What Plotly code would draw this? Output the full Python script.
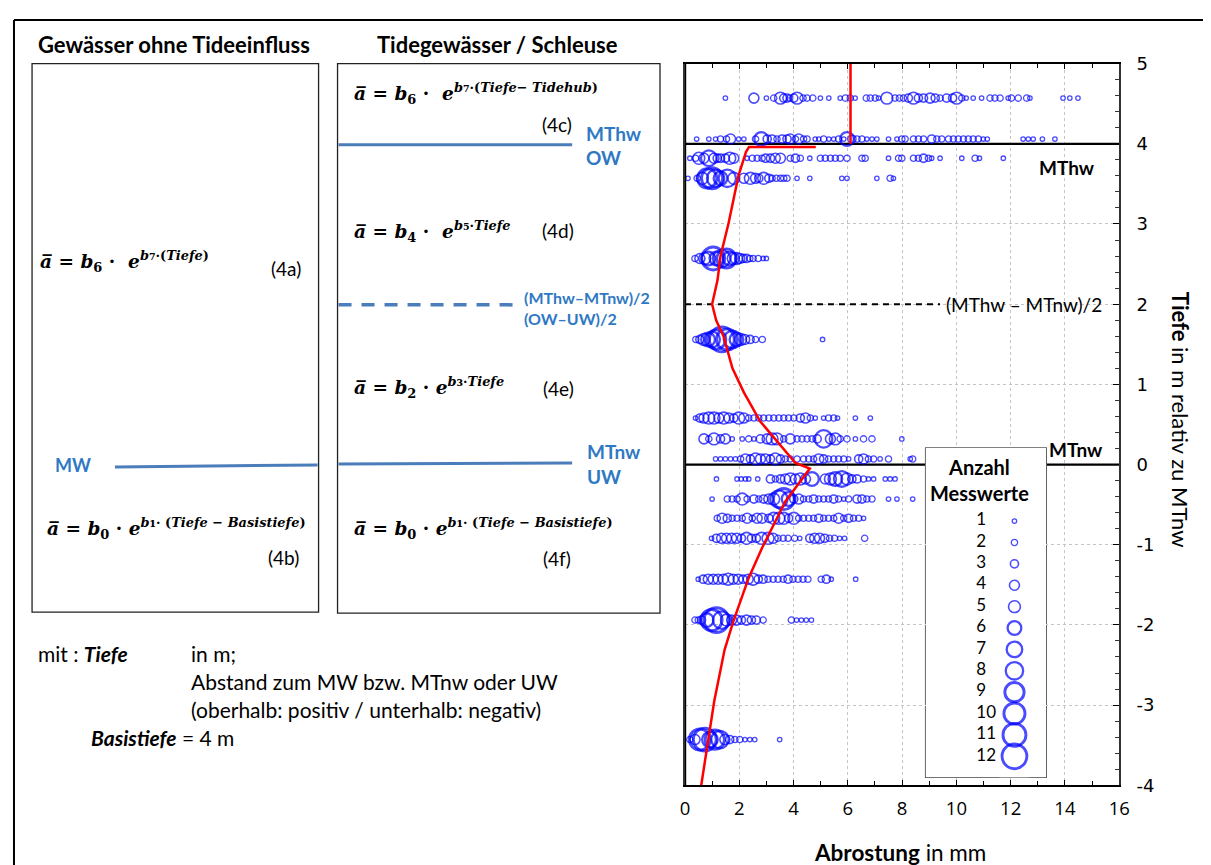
import plotly.graph_objects as go

W, H = 1215, 870
# observed mapping of the photographed page (measured): screen = A + S * page ; page = figure + 8
SX, AX = 0.9885, 4.0
SY, AY = 0.975, 10.6
OFF = 8

# ---------------- data ----------------
x457 = [1.49, 2.54, 3.0, 3.27, 3.52, 3.64, 3.76, 3.86, 4.01, 4.13, 4.35, 4.5, 4.71, 4.99, 5.3, 5.72, 5.91, 6.09,
        6.27, 6.68, 6.83, 7.01, 7.13, 7.44, 7.74, 7.9, 8.05, 8.23, 8.42, 8.6, 8.79, 9.03, 9.22, 9.4, 9.64, 9.86,
        10.01, 10.2, 10.36, 10.62, 10.93, 11.24, 11.42, 11.61, 11.91, 12.03, 12.28, 12.59, 12.71, 13.93, 14.18, 14.48]
c457 = [1, 4, 1, 2, 5, 3, 3, 2, 3, 5, 2, 2, 2, 1, 1, 1, 2, 2, 1, 2, 2, 2, 1, 5, 2, 2, 2, 3, 5, 3, 3, 4, 3, 2, 3, 3,
        5, 2, 1, 1, 1, 2, 2, 2, 1, 2, 2, 2, 1, 1, 1, 1]

x406 = [0.43, 0.88, 1.13, 1.31, 1.53, 1.68, 1.98, 2.17, 2.6, 2.81, 3.03, 3.21, 3.39, 3.58, 3.76, 3.88, 4.07, 4.19,
        4.37, 4.5, 4.8, 4.93, 5.11, 5.3, 5.48, 5.66, 5.85, 5.97, 6.15, 6.34, 6.52, 6.7, 6.89, 7.07, 7.5, 7.81, 7.99,
        8.11, 8.42, 8.6, 8.79, 9.09, 9.28, 9.46, 9.71, 9.89, 10.07, 10.26, 10.44, 10.62, 10.81, 10.99, 11.14, 12.46,
        12.65, 12.83, 13.17, 13.63]
c406 = [1, 1, 1, 2, 2, 4, 1, 1, 2, 6, 3, 3, 2, 3, 3, 4, 2, 4, 2, 2, 1, 1, 2, 1, 1, 2, 1, 6, 3, 2, 2, 1, 1, 1, 1, 1, 2,
        2, 2, 2, 2, 3, 2, 2, 2, 2, 2, 2, 2, 2, 2, 1, 1, 1, 1, 1, 1, 1]

x382 = [0.18, 0.39, 0.51, 0.7, 0.88, 1.07, 1.19, 1.31, 1.49, 1.65, 1.8, 2.29, 2.48, 2.66, 2.84, 2.97, 3.15, 3.33,
        3.52, 3.88, 4.07, 4.25, 4.6, 4.99, 5.17, 5.36, 5.54, 5.72, 5.97, 6.52, 6.64, 7.5, 7.87, 7.99, 8.42, 8.6, 8.79,
        8.97, 9.09, 9.4, 10.2, 10.69, 10.85, 11.73]
c382 = [1, 2, 5, 4, 7, 4, 3, 3, 3, 5, 4, 1, 2, 2, 2, 3, 3, 4, 4, 2, 3, 2, 1, 2, 2, 2, 2, 2, 2, 2, 2, 1, 2, 2, 2, 2, 3,
        2, 1, 1, 1, 2, 1, 1]

x357 = [0.11, 0.45, 0.64, 0.82, 1.0, 1.13, 1.31, 1.56, 1.8, 2.17, 2.41, 2.6, 2.72, 2.9, 3.09, 3.21, 3.37, 3.52, 3.64,
        3.76, 4.13, 4.6, 5.78, 5.97, 7.07, 7.56, 7.68]
c357 = [1, 2, 5, 9, 10, 8, 6, 8, 5, 4, 5, 4, 3, 5, 3, 2, 2, 2, 2, 2, 1, 1, 1, 1, 1, 2, 1]

x257 = [0.37, 0.55, 0.73, 0.86, 1.04, 1.16, 1.35, 1.53, 1.65, 1.78, 1.9, 2.02, 2.14, 2.27, 2.39, 2.51, 2.7, 2.88, 3.0]
c257 = [2, 4, 5, 6, 11, 6, 8, 9, 6, 5, 5, 4, 3, 3, 2, 2, 2, 1, 1]

x156 = [0.4, 0.55, 0.7, 0.85, 1.0, 1.15, 1.36, 1.55, 1.75, 1.9, 2.05, 2.2, 2.4, 2.6, 2.85, 5.07]
c156 = [2, 3, 5, 6, 7, 9, 12, 10, 8, 6, 5, 4, 3, 2, 2, 1]

x058 = [0.39, 0.55, 0.7, 0.88, 1.07, 1.25, 1.43, 1.62, 1.8, 1.98, 2.17, 2.35, 2.54, 2.72, 2.9, 3.09, 3.27, 3.46, 3.64,
        3.82, 4.01, 4.25, 4.44, 4.62, 4.8, 5.11, 5.29, 5.48, 5.62, 6.28, 6.83]
c058 = [1, 3, 4, 5, 5, 4, 5, 4, 3, 5, 4, 2, 2, 2, 2, 2, 2, 2, 2, 2, 2, 3, 4, 2, 1, 1, 2, 2, 1, 1, 1]

x032 = [0.7, 0.88, 1.07, 1.31, 1.49, 1.74, 2.11, 2.35, 2.54, 2.78, 3.03, 3.21, 3.39, 3.64, 3.88, 4.13, 4.31, 4.5,
        4.68, 4.87, 5.11, 5.36, 5.54, 5.72, 5.97, 6.28, 6.58, 6.89, 7.99]
c032 = [4, 2, 5, 3, 4, 1, 1, 2, 1, 3, 4, 5, 5, 2, 4, 2, 2, 2, 2, 3, 8, 4, 5, 2, 2, 1, 2, 2, 1]

x007 = [1.13, 1.31, 1.49, 1.68, 1.86, 2.05, 2.23, 2.41, 2.6, 2.78, 2.97, 3.15, 3.33, 3.52, 3.7, 3.88, 4.13, 4.37,
        4.56, 4.74, 4.93, 5.11, 5.29, 5.48, 5.66, 5.85, 6.03, 6.4, 6.58, 6.76, 6.95, 7.19, 7.5, 8.3, 8.39]
c007 = [1, 1, 1, 1, 1, 2, 4, 3, 5, 4, 4, 3, 5, 3, 2, 2, 2, 2, 2, 2, 4, 3, 2, 2, 2, 2, 1, 3, 4, 2, 2, 1, 2, 1, 2]

xm018 = [1.16, 1.92, 2.07, 2.23, 2.35, 2.68, 3.15, 3.33, 3.52, 3.7, 3.88, 4.07, 4.25, 4.44, 4.68, 5.17, 5.36, 5.54,
         5.78, 5.97, 6.15, 6.34, 6.58, 6.76, 6.95, 7.38, 7.56, 7.74]
cm018 = [1, 1, 1, 1, 1, 1, 3, 2, 3, 4, 5, 4, 5, 4, 6, 4, 5, 6, 7, 5, 3, 3, 2, 1, 1, 1, 1, 1]

xm043 = [1.0, 1.56, 1.74, 1.92, 2.11, 2.29, 2.54, 2.72, 2.9, 3.09, 3.27, 3.46, 3.64, 3.82, 4.01, 4.19, 4.37, 4.56,
         4.74, 4.93, 5.11, 5.29, 5.48, 5.66, 5.85, 6.03, 6.34, 6.52, 6.7, 6.89, 7.5, 7.81, 8.39]
cm043 = [1, 2, 2, 2, 5, 2, 3, 2, 3, 4, 5, 8, 10, 6, 3, 4, 2, 2, 3, 2, 2, 2, 3, 2, 1, 2, 3, 3, 2, 2, 1, 1, 1]

xm067 = [1.19, 1.37, 1.56, 1.74, 1.92, 2.11, 2.29, 2.48, 2.66, 2.84, 3.09, 3.27, 3.46, 3.64, 3.82, 4.01, 4.19, 4.37,
         4.56, 4.74, 4.93, 5.11, 5.29, 5.48, 5.66, 5.85, 6.03, 6.21, 6.4, 6.58]
cm067 = [2, 4, 3, 2, 2, 2, 4, 2, 4, 4, 3, 5, 5, 5, 3, 5, 2, 2, 2, 2, 3, 2, 2, 2, 4, 2, 3, 2, 2, 1]

xm092 = [0.98, 1.16, 1.35, 1.53, 1.72, 1.9, 2.08, 2.27, 2.45, 2.63, 2.82, 3.06, 3.25, 3.43, 3.62, 3.8, 4.04, 4.23,
         4.6, 4.78, 4.96, 5.15, 5.33, 5.51, 5.7, 5.88, 6.62]
cm092 = [1, 3, 4, 4, 4, 4, 3, 5, 3, 3, 5, 5, 4, 2, 2, 2, 2, 1, 3, 4, 4, 3, 2, 2, 1, 1, 2]

xm143 = [0.49, 0.67, 0.86, 1.04, 1.22, 1.41, 1.59, 1.78, 1.96, 2.14, 2.33, 2.51, 2.7, 2.88, 3.06, 3.25, 3.43, 3.62,
         3.8, 3.98, 4.17, 4.35, 4.53, 5.02, 5.21, 5.39, 6.29]
cm143 = [1, 3, 4, 4, 4, 4, 5, 4, 4, 3, 4, 5, 3, 3, 2, 2, 2, 2, 3, 2, 2, 2, 2, 2, 3, 1, 1]

xm194 = [0.37, 0.49, 0.61, 0.8, 0.98, 1.16, 1.35, 1.53, 1.72, 1.9, 2.08, 2.27, 2.45, 2.63, 2.88, 3.92, 4.11, 4.29,
         4.47, 4.66]
cm194 = [2, 2, 3, 6, 10, 12, 8, 5, 4, 4, 3, 4, 3, 3, 2, 2, 1, 1, 1, 1]

xm343 = [0.18, 0.37, 0.55, 0.73, 0.92, 1.1, 1.29, 1.47, 1.65, 1.84, 2.02, 2.21, 2.39, 2.57, 3.49]
cm343 = [2, 4, 10, 11, 7, 9, 8, 4, 3, 2, 2, 1, 1, 1, 1]

row_depths = [4.57, 4.06, 3.82, 3.57, 2.57, 1.56, 0.58, 0.32, 0.07, -0.18, -0.43, -0.67, -0.92, -1.43, -1.94, -3.43]
row_x = [x457, x406, x382, x357, x257, x156, x058, x032, x007, xm018, xm043, xm067, xm092, xm143, xm194, xm343]
row_c = [c457, c406, c382, c357, c257, c156, c058, c032, c007, cm018, cm043, cm067, cm092, cm143, cm194, cm343]

# fitted curve (red)
fit_x = [4.82, 2.36, 2.25, 1.97, 1.6, 1.31, 1.2, 1.0, 1.15, 1.42, 1.75, 2.17, 2.77, 3.5, 4.07, 4.6, 3.7, 2.84,
         2.34, 1.78, 1.46, 1.08, 0.6]
fit_y = [3.96, 3.96, 3.9, 3.6, 3.0, 2.6, 2.3, 2.0, 1.8, 1.6, 1.2, 0.9, 0.54, 0.25, 0.02, -0.05, -0.46, -1.04,
         -1.42, -1.96, -2.31, -2.95, -4.0]
top_x = [6.1, 6.1]
top_y = [5.0, 4.0]

level_mthw = 4
level_mid = 2
level_mtnw = 0

legend_counts = list(range(1, 13))
x_ticks = list(range(0, 17, 2))
y_ticks = list(range(-4, 6))

BLUE_TXT = "#2f78c4"
BLUE_LN = "#4a7dba"
MARK = "#0000ff"


def msize(c):
    return 2.6 + 1.85 * c


def mwidth(c):
    if c <= 2:
        return 1.3
    if c <= 5:
        return 1.6
    if c <= 8:
        return 2.3
    return 2.9


def px(rx):
    return ((rx - AX) / SX - OFF) / W


def py(ry):
    return 1 - ((ry - AY) / SY - OFF) / H


fig = go.Figure()

bx, by, bc = [], [], []
for d, xs, cs in zip(row_depths, row_x, row_c):
    for xv, cv in zip(xs, cs):
        bx.append(xv)
        by.append(d)
        bc.append(cv)

fig.add_trace(go.Scatter(x=[0, 16], y=[level_mthw, level_mthw], mode="lines",
                         line=dict(color="black", width=2.2), hoverinfo="skip"))
fig.add_trace(go.Scatter(x=[0, 16], y=[level_mtnw, level_mtnw], mode="lines",
                         line=dict(color="black", width=2.2), hoverinfo="skip"))
fig.add_trace(go.Scatter(x=[0, 9.4], y=[level_mid, level_mid], mode="lines",
                         line=dict(color="black", width=2, dash="6px,5px"), hoverinfo="skip"))

fig.add_trace(go.Scatter(
    x=bx, y=by, mode="markers",
    marker=dict(symbol="circle-open", size=[msize(c) for c in bc], color=MARK,
                line=dict(width=[mwidth(c) for c in bc], color=MARK)),
))

fig.add_trace(go.Scatter(x=fit_x, y=fit_y, mode="lines", line=dict(color="#ff0000", width=2.5)))
fig.add_trace(go.Scatter(x=top_x, y=top_y, mode="lines", line=dict(color="#ff0000", width=2.5)))

fig.add_trace(go.Scatter(
    x=[0.736] * len(legend_counts), y=legend_counts, mode="markers", xaxis="x2", yaxis="y2",
    marker=dict(symbol="circle-open", size=[msize(c) for c in legend_counts], color=MARK,
                line=dict(width=[mwidth(c) for c in legend_counts], color=MARK)),
))
fig.add_trace(go.Scatter(
    x=[0.42] * len(legend_counts), y=legend_counts, mode="text", xaxis="x2", yaxis="y2",
    text=[str(c) for c in legend_counts], textposition="middle right",
    textfont=dict(family="Lato", size=17, color="black"),
))

fig.update_layout(
    width=W, height=H, margin=dict(l=0, r=0, t=0, b=0),
    paper_bgcolor="white", plot_bgcolor="white", showlegend=False,
    xaxis=dict(domain=[px(685), px(1120)], range=[0, 16], tickvals=x_ticks, ticktext=[str(v) for v in x_ticks],
               ticks="inside", ticklen=6, tickcolor="black", showline=True, linecolor="black", linewidth=1.5,
               mirror="ticks", showgrid=True, gridcolor="#c4c4c4", griddash="dot", gridwidth=1,
               minor=dict(dtick=1, ticks="inside", ticklen=5, tickcolor="black", showgrid=False),
               tickfont=dict(family="Open Sans", size=18.5, color="black"), zeroline=False,
               ticklabelstandoff=6, anchor="y"),
    yaxis=dict(domain=[py(784), py(63)], range=[-4, 5], side="right", tickvals=y_ticks,
               ticktext=[str(v) for v in y_ticks], ticks="inside", ticklen=6, tickcolor="black",
               showline=True, linecolor="#333333", linewidth=1.5, mirror=True, showgrid=True,
               gridcolor="#c4c4c4", griddash="dot", gridwidth=1,
               minor=dict(dtick=0.2, ticks="inside", ticklen=4, tickcolor="#333333", showgrid=False),
               tickfont=dict(family="DejaVu Sans", size=18, color="black"), zeroline=False,
               ticklabelstandoff=12, anchor="x"),
    xaxis2=dict(domain=[px(926), px(1047)], range=[0, 1], visible=False, anchor="y2", fixedrange=True),
    yaxis2=dict(domain=[py(776), py(447)], range=[12.98, -2.42], visible=False, anchor="x2",
                fixedrange=True),
)

shapes = []
shapes.append(dict(type="line", xref="x", yref="y", x0=0, x1=0, y0=-4, y1=5,
                   line=dict(color="black", width=2.5), layer="above"))
shapes.append(dict(type="rect", xref="x2 domain", yref="y2 domain", x0=0, x1=1, y0=0, y1=1,
                   fillcolor="white", line=dict(color="black", width=1.2), layer="below"))
shapes.append(dict(type="rect", xref="x2 domain", yref="y2 domain", x0=0.61, x1=0.86, y0=0.0, y1=0.824,
                   fillcolor="#fdf7f0", line=dict(width=0), layer="below"))
# outer frame (as close to the page corner as the figure allows)
shapes.append(dict(type="line", xref="paper", yref="paper", x0=1 / W, x1=1 / W, y0=1 - 1 / H, y1=0,
                   line=dict(color="black", width=2)))
shapes.append(dict(type="line", xref="paper", yref="paper", x0=1 / W, x1=1, y0=1 - 1 / H, y1=1 - 1 / H,
                   line=dict(color="black", width=2)))
shapes.append(dict(type="rect", xref="paper", yref="paper", x0=px(31), x1=px(318), y0=py(63), y1=py(611),
                   line=dict(color="#222222", width=1.3)))
shapes.append(dict(type="rect", xref="paper", yref="paper", x0=px(337), x1=px(660), y0=py(63), y1=py(612),
                   line=dict(color="#222222", width=1.3)))
shapes.append(dict(type="line", xref="paper", yref="paper", x0=px(114), x1=px(317), y0=py(466), y1=py(464),
                   line=dict(color=BLUE_LN, width=3)))
shapes.append(dict(type="line", xref="paper", yref="paper", x0=px(338), x1=px(572), y0=py(144), y1=py(144),
                   line=dict(color=BLUE_LN, width=3)))
shapes.append(dict(type="line", xref="paper", yref="paper", x0=px(338), x1=px(517), y0=py(304), y1=py(304),
                   line=dict(color=BLUE_LN, width=3.5, dash="13px,10px")))
shapes.append(dict(type="line", xref="paper", yref="paper", x0=px(338), x1=px(572), y0=py(463), y1=py(462),
                   line=dict(color=BLUE_LN, width=3)))
fig.update_layout(shapes=shapes)

ann = []


def add_txt(x, y, text, size=17, color="black", family="Lato", xanchor="left", yanchor="middle", **kw):
    ann.append(dict(xref="paper", yref="paper", x=px(x), y=py(y), text=text, showarrow=False,
                    xanchor=xanchor, yanchor=yanchor, font=dict(family=family, size=size, color=color), **kw))


add_txt(173, 44, "<b>Gewässer ohne Tideeinfluss</b>", size=22, xanchor="center")
add_txt(497, 44, "<b>Tidegewässer / Schleuse</b>", size=22, xanchor="center")

FF = "DejaVu Serif"
A = "<i>a̅</i>"


def sb(d):
    return '<span style="font-size:15px">' + d + '</span>'


f4a = "<b>" + A + " = <i>b</i><sub>6</sub> ·  <i>e</i><sup><i>b</i>" + sb("₇") + "·(<i>Tiefe</i>)</sup></b>"
f4b = ("<b>" + A + " = <i>b</i><sub>0</sub> · <i>e</i><sup><i>b</i>" + sb("₁")
       + "· (<i>Tiefe</i> − <i>Basistiefe</i>)</sup></b>")
f4c = ("<b>" + A + " = <i>b</i><sub>6</sub> ·  <i>e</i><sup><i>b</i>" + sb("₇")
       + "·(<i>Tiefe</i>− <i>Tidehub</i>)</sup></b>")
f4d = "<b>" + A + " = <i>b</i><sub>4</sub> ·  <i>e</i><sup><i>b</i>" + sb("₅") + "·<i>Tiefe</i></sup></b>"
f4e = "<b>" + A + " = <i>b</i><sub>2</sub> · <i>e</i><sup><i>b</i>" + sb("₃") + "·<i>Tiefe</i></sup></b>"

FS = 18.5
add_txt(37, 260, f4a, size=FS, family=FF)
add_txt(285, 268, "(4a)", size=19, xanchor="center")
add_txt(44, 526, f4b, size=FS, family=FF)
add_txt(283, 556, "(4b)", size=19, xanchor="center")
add_txt(351, 92, f4c, size=FS, family=FF)
add_txt(557, 124, "(4c)", size=19, xanchor="center")
add_txt(351, 230, f4d, size=FS, family=FF)
add_txt(558, 230, "(4d)", size=19, xanchor="center")
add_txt(351, 386, f4e, size=FS, family=FF)
add_txt(558, 388, "(4e)", size=19, xanchor="center")
add_txt(351, 526, f4b, size=FS, family=FF)
add_txt(557, 557, "(4f)", size=19, xanchor="center")

add_txt(52, 464, "<b>MW</b>", size=18, color=BLUE_TXT)
add_txt(584, 133, "<b>MThw</b>", size=19, color=BLUE_TXT)
add_txt(584, 157, "<b>OW</b>", size=19, color=BLUE_TXT)
add_txt(522, 297, "<b>(MThw–MTnw)/2</b>", size=16, color=BLUE_TXT)
add_txt(522, 318, "<b>(OW–UW)/2</b>", size=16, color=BLUE_TXT)
add_txt(585, 451, "<b>MTnw</b>", size=19, color=BLUE_TXT)
add_txt(585, 475, "<b>UW</b>", size=19, color=BLUE_TXT)

add_txt(35, 652, "mit : <b><i>Tiefe</i></b>", size=21)
add_txt(188, 652, "in m;", size=21)
add_txt(188, 680, "Abstand zum MW bzw. MTnw oder UW", size=21)
add_txt(188, 708, "(oberhalb: positiv / unterhalb: negativ)", size=21)
add_txt(88, 736, "<b><i>Basistiefe</i></b> = 4 m", size=21)

add_txt(900, 851, "<b>Abrostung</b> in mm", size=22.5, xanchor="center")
add_txt(1181, 419, "<b>Tiefe</b> in m relativ zu MTnw", size=22, xanchor="center", textangle=90)
ann.append(dict(xref="x2 domain", yref="y2 domain", x=0.45, y=0.903, text="<b>Anzahl<br>Messwerte</b>",
                showarrow=False, xanchor="center", yanchor="middle",
                font=dict(family="Lato", size=20, color="black")))
ann.append(dict(xref="x", yref="y", x=14.08, y=3.7, text="<b>MThw</b>", showarrow=False,
                font=dict(family="Lato", size=19, color="black")))
ann.append(dict(xref="x", yref="y", x=14.41, y=0.19, text="<b>MTnw</b>", showarrow=False,
                font=dict(family="Lato", size=19, color="black")))
ann.append(dict(xref="x", yref="y", x=9.56, y=level_mid, text="(MThw – MTnw)/2", showarrow=False,
                xanchor="left", font=dict(family="Lato", size=19, color="black")))

fig.update_layout(annotations=ann)
fig.write_html("out.html")
